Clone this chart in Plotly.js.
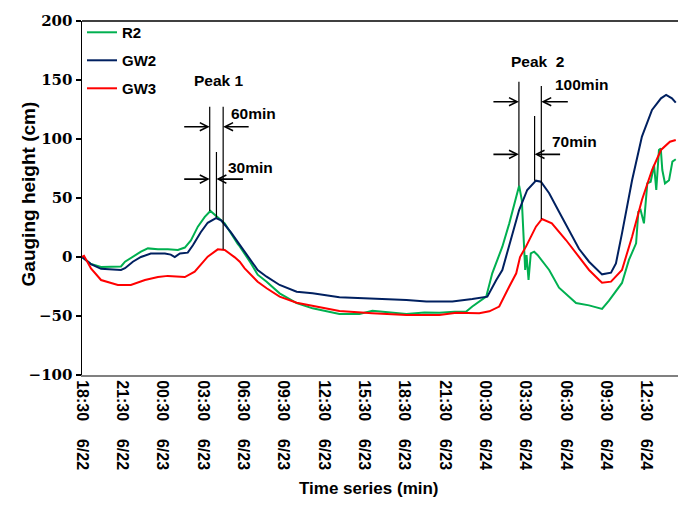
<!DOCTYPE html>
<html>
<head>
<meta charset="utf-8">
<script src="https://cdn.plot.ly/plotly-3.0.1.min.js"></script>
<style>html,body{margin:0;padding:0;background:#fff;}#chart{width:678px;height:514px;}</style>
</head>
<body>
<div id="chart"></div>
<script>
// Time in minutes since 18:30 6/22
const r2Time = [0,40,85,134,160,174,192,227,263,294,339,383,428,459,486,517,548,573,606,637,695,704,753,762,784,824,882,958,1029,1149,1238,1296,1372,1448,1528,1595,1662,1715,1742,1773,1804,1831,1876,1907,1938,1951,1963,1970,1978,1984,1993,2003,2018,2033,2085,2129,2174,2205,2263,2308,2321,2352,2383,2410,2441,2473,2483,2493,2508,2523,2538,2553,2563,2575,2583,2590,2602,2620,2635,2650];
const r2Vals = [0,-6,-8.5,-8.5,-8.5,-8,-4,0,4.5,7.3,6.5,6.5,6,8,14,25.7,34,39,34,28.5,11,9,-5,-8.2,-15,-20.9,-30.8,-39,-43.5,-48.3,-48.3,-45.5,-47,-48.3,-47,-47.2,-46.5,-46.3,-42,-37.9,-33.6,-13.8,8.7,28.5,51,60.4,48,14.4,-11,1.7,-19.5,3.1,4.5,1.7,-11,-26,-33.6,-39,-41,-43,-44,-37,-29,-22,-2.5,11.6,38.4,39.8,28.5,62.4,63.8,78,56.8,90.7,92,73.7,62.4,65,80.8,82.8];

const gw2Time = [0,40,85,134,174,192,227,263,307,370,396,414,437,472,495,530,561,598,621,664,704,725,762,784,824,882,958,1029,1149,1296,1448,1537,1653,1742,1760,1809,1849,1876,1907,1951,1987,2026,2048,2085,2129,2174,2218,2263,2308,2321,2361,2383,2410,2455,2499,2544,2584,2607,2633,2650];
const gw2Vals = [0,-6,-10,-10.5,-11,-9.5,-4,0,3,3,2,0,3,3.7,10,21,29,33,31,21,10,4.5,-5.4,-11,-16.7,-23.7,-29.4,-30.8,-34.2,-35.3,-36.4,-37.8,-37.8,-35.6,-35,-33.6,-19.5,-11,10,39.8,56.8,64.7,63.8,54,38.4,22.9,7,-4,-12.4,-14.7,-13.3,-5.4,20,65,102,124.6,134.5,137.3,134.5,130.8];

const gw3Time = [0,9,40,85,160,218,281,339,383,459,503,561,606,637,682,704,726,762,784,824,882,958,1029,1149,1296,1448,1595,1671,1773,1818,1862,1876,1907,1938,1955,1982,2026,2053,2097,2160,2205,2263,2308,2321,2361,2410,2455,2499,2544,2584,2624,2650];
const gw3Vals = [0,1,-9.6,-19.5,-23.7,-23.7,-19.5,-17,-16,-17,-12.4,0.3,6.5,6,-0.3,-4,-9.6,-16.7,-21,-26.5,-33.6,-38.7,-41.5,-45.8,-47.7,-49.2,-49.2,-47.2,-47.7,-46,-42,-36.4,-25,-13.8,0,9,25.7,32.2,28.5,14.4,3.1,-11,-19.5,-21.8,-20.9,-11,17.2,48.3,73.7,90.7,97.7,99.2];

const tickMinutes = [0,180,360,540,720,900,1080,1260,1440,1620,1800,1980,2160,2340,2520];
const tickLabels = ['18:30    6/22','21:30    6/22','00:30    6/23','03:30    6/23','06:30    6/23','09:30    6/23','12:30    6/23','15:30    6/23','18:30    6/23','21:30    6/23','00:30    6/24','03:30    6/24','06:30    6/24','09:30    6/24','12:30    6/24'];

// Peak markers (minutes, top value, bottom value)
const peakLineX = [570,600,630,1950,2020,2050];
const peakLineTop = [127.4,89,127.4,148.6,119.5,145];
const peakLineBottom = [39,33.5,6.5,60.4,64.7,32.2];

const SANS = 'Liberation Sans, Arial, sans-serif';
const nb = s => s.replace(/ /g,'\u00a0');

const traces = [
  {x:r2Time, y:r2Vals, name:'R2', legendgroup:'a', mode:'lines', line:{color:'#00B050', width:2}},
  {x:gw2Time, y:gw2Vals, name:'GW2', legendgroup:'b', mode:'lines', line:{color:'#002060', width:2}},
  {x:gw3Time, y:gw3Vals, name:'GW3', legendgroup:'c', mode:'lines', line:{color:'#FF0000', width:2}}
];

const shapes = [
  {type:'line', xref:'paper', yref:'paper', x0:0, x1:1, y0:1, y1:1, line:{color:'#000', width:1.5}}
];
for (let i=0;i<peakLineX.length;i++){
  shapes.push({type:'line', xref:'x', yref:'y', x0:peakLineX[i], x1:peakLineX[i], y0:peakLineBottom[i], y1:peakLineTop[i], line:{color:'#000', width:1.2}});
}

function arrow(xh, y, ax){
  return {x:xh, y:y, xref:'x', yref:'y', ax:ax, ay:0, text:'', showarrow:true, arrowhead:5, arrowsize:1, arrowwidth:1.6, arrowcolor:'#000', standoff:0};
}
function label(t, x, y){
  return {x:x, y:y, xref:'x', yref:'y', text:'<b>'+t+'</b>', showarrow:false, font:{family:SANS, size:15.5, color:'#000'}};
}

const annotations = [
  arrow(570, 110.4, -27), arrow(630, 110.4, 27),
  arrow(570, 66, -27), arrow(600, 66, 28),
  arrow(1950, 131.6, -27), arrow(2050, 131.6, 28),
  arrow(1950, 87, -27), arrow(2020, 87, 27),
  label('Peak 1', 610, 150), label('60min', 766, 122), label('30min', 751, 76),
  label(nb('Peak  2'), 2031, 166), label('100min', 2228, 146), label('70min', 2196, 97.7),
  {xref:'paper', yref:'paper', x:0.4815, y:-0.353, text:'<b>Time series (min)</b>', showarrow:false, font:{family:SANS, size:17, color:'#000'}},
  {xref:'paper', yref:'paper', x:-0.111, y:0.511, text:'<b>Gauging height (cm)</b>', textangle:-90, showarrow:false, font:{family:SANS, size:19, color:'#000'}}
];

const layout = {
  width:678, height:514,
  margin:{l:82, r:0, t:21, b:139, pad:0},
  paper_bgcolor:'#fff', plot_bgcolor:'#fff',
  showlegend:true,
  legend:{x:0.0, y:1.014, xanchor:'left', yanchor:'top', bgcolor:'rgba(0,0,0,0)', borderwidth:0,
          font:{family:SANS, size:15, color:'#000', weight:'bold'}, traceorder:'grouped', tracegroupgap:5.5},
  xaxis:{type:'linear', range:[0,2660], showgrid:false, zeroline:false, showline:true, linecolor:'#808080', linewidth:2,
         tickmode:'array', tickvals:tickMinutes, ticktext:tickLabels.map(nb), tickangle:90, ticks:'',
         tickfont:{family:SANS, size:16, color:'#000', weight:'bold'}},
  yaxis:{range:[-100,200], showgrid:false, zeroline:false, showline:true, linecolor:'#000', linewidth:1.5,
         tickmode:'array', tickvals:[-100,-50,0,50,100,150,200], ticks:'outside', ticklen:5, tickwidth:1.5, tickcolor:'#000',
         tickfont:{family:'DejaVu Serif, serif', size:15, color:'#000', weight:'bold'}},
  shapes:shapes,
  annotations:annotations
};

Plotly.newPlot('chart', traces, layout, {displayModeBar:false, staticPlot:true});
</script>
</body>
</html>
